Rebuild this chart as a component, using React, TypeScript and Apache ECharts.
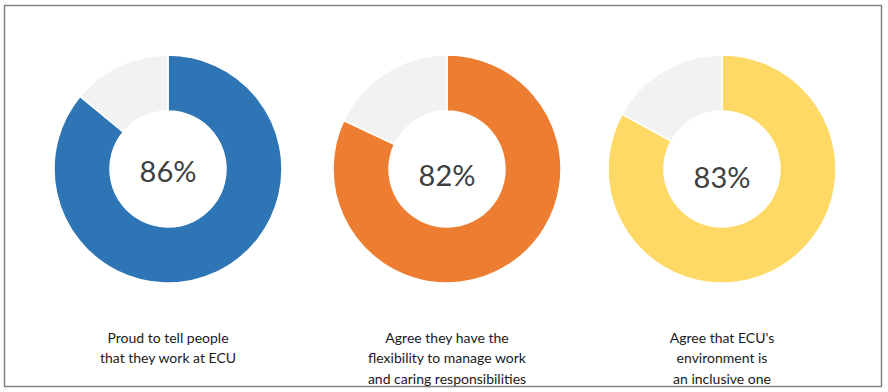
import React, { useEffect, useRef } from "react";
import * as echarts from "echarts";

const categories = [
  "Proud to tell people\nthat they work at ECU",
  "Agree they have the\nflexibility to manage work\nand caring responsibilities",
  "Agree that ECU's\nenvironment is\nan inclusive one",
];
const agreeValues = [86, 82, 83];
const restValues = [14, 18, 17];
const colors = ["#2E75B6", "#ED7D31", "#FFD966"];
const restColor = "#F2F2F2";

const centersX = [168, 447, 722];
const centerY = 169;
const percentY = [170, 174, 176];

export default function App() {
  const ref = useRef<HTMLDivElement>(null);
  useEffect(() => {
    if (!ref.current) return;
    const chart = echarts.init(ref.current, undefined, { renderer: "svg" });
    const series = agreeValues.map((v, i) => ({
      type: "pie",
      center: [centersX[i], centerY],
      radius: [58, 114],
      startAngle: 90,
      clockwise: true,
      silent: true,
      label: { show: false },
      labelLine: { show: false },
      itemStyle: { borderColor: "#ffffff", borderWidth: 1.5 },
      data: [
        { value: v, name: "Agree", itemStyle: { color: colors[i] } },
        { value: restValues[i], name: "Other", itemStyle: { color: restColor } },
      ],
    }));
    const graphics: any[] = [
      {
        type: "rect",
        shape: { x: 4.5, y: 5.5, width: 877, height: 381 },
        style: { fill: "none", stroke: "#808080", lineWidth: 1.5 },
        z: 10,
      },
    ];
    agreeValues.forEach((v, i) => {
      graphics.push({
        type: "text",
        x: centersX[i],
        y: percentY[i],
        style: {
          text: v + "%",
          fill: "#404040",
          font: "29px Lato",
          textAlign: "center",
          textVerticalAlign: "middle",
        },
        z: 10,
      });
      graphics.push({
        type: "text",
        x: centersX[i],
        y: 327,
        style: {
          text: categories[i],
          fill: "#1a1a1a",
          font: "14px Lato",
          lineHeight: 20.5,
          textAlign: "center",
          textVerticalAlign: "top",
        },
        z: 10,
      });
    });
    chart.setOption({
      animation: false,
      backgroundColor: "#ffffff",
      series,
      graphic: graphics,
    });
    return () => chart.dispose();
  }, []);
  return (
    <div
      ref={ref}
      style={{ position: "fixed", left: 0, top: 0, width: 888, height: 392 }}
    />
  );
}
